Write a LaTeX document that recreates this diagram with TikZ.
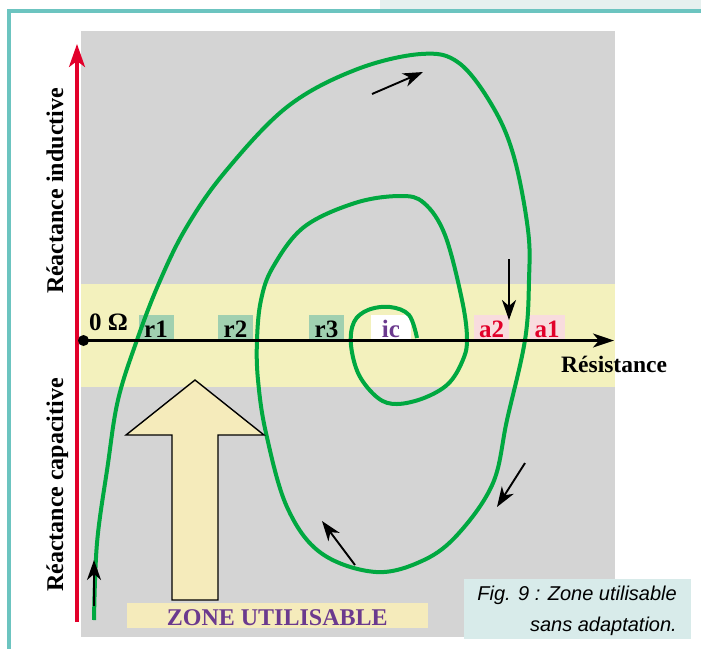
\documentclass[tikz,border=0pt]{standalone}
\usepackage{fontspec}
\setmainfont{Liberation Serif}
\newfontfamily\capfont{Liberation Sans}
\usetikzlibrary{arrows.meta}
\definecolor{frameteal}{RGB}{108,196,192}
\definecolor{bandteal}{RGB}{230,240,239}
\definecolor{capteal}{RGB}{216,235,234}
\definecolor{bggray}{RGB}{212,212,212}
\definecolor{bandyellow}{RGB}{243,241,189}
\definecolor{zonecream}{RGB}{245,235,187}
\definecolor{curvegreen}{RGB}{0,168,64}
\definecolor{boxgreen}{RGB}{160,208,176}
\definecolor{boxpink}{RGB}{248,220,222}
\definecolor{axisred}{RGB}{226,0,42}
\definecolor{zonepurple}{RGB}{107,58,142}

\begin{document}
\begin{tikzpicture}[x=1pt, y=-1pt,
  lbl/.style={font=\fontsize{24}{26}\selectfont\bfseries, inner sep=0pt},
  tagbox/.style={lbl, font=\fontsize{25}{27}\selectfont\bfseries, minimum width=35pt,
    minimum height=25pt, text height=19pt, text depth=0pt, anchor=south},
  captxt/.style={font=\capfont\itshape\fontsize{20}{24}\selectfont, inner sep=0pt, anchor=base east},
  smallarrow/.style={-{Stealth[length=20pt, width=14pt, inset=6pt]}, line width=1.9pt}]

\useasboundingbox (0,0) rectangle (701,649);

% ============================================================
% cadre et fond
% ============================================================
\fill[bandteal] (380,0) rectangle (701,9.3);
\draw[frameteal, line width=3.4pt] (701,11) -- (9,11) -- (9,649);

\fill[bggray] (80.5,31) rectangle (615,637);
\fill[bandyellow] (80.5,284) rectangle (615,387);

% étiquettes sur l'axe
\node[tagbox, fill=boxgreen] (r1) at (156,340.5) {r1};
\node[tagbox, fill=boxgreen] (r2) at (235.5,340.5) {r2};
\node[tagbox, fill=boxgreen] (r3) at (326.5,340.5) {r3};
\node[tagbox, fill=white, text=zonepurple, minimum width=40pt] (ic) at (391,340.5) {ic};
\node[tagbox, fill=boxpink, text=axisred] (a2) at (491.5,340.5) {a2};
\node[tagbox, fill=boxpink, text=axisred] (a1) at (547,340.5) {a1};

% ============================================================
% courbe d'impédance
% ============================================================
\draw[curvegreen, line width=4pt] plot[smooth, tension=0.6] coordinates {
  (94,620) (97,543) (107.5,467) (118,400) (137,340) (159,283) (186,228)
  (225,172) (287,107) (355,70) (421,54) (459,63) (493,107) (514,157)
  (528,230) (529,280) (525,340) (507,420) (493,483) (459,533) (424,560)
  (376,572) (321,553) (287,507) (266,433) (258,380) (257,340) (261,300)
  (273,267) (304,227) (355,203) (400,196) (424,203) (445,235) (462,300)
  (467,340) (462,362) (448,384) (424,398) (397,404) (378,398) (359,375)
  (351,345) (354,322) (368,310) (390,307) (409,315) (417,338)};

% ============================================================
% axes
% ============================================================
\coordinate (xbot) at (77,622);
\coordinate (xtop) at (77,44);
\draw[axisred, line width=3.3pt, -{Stealth[length=23pt, width=16pt, inset=6pt]}] (xbot) -- (xtop);

\node[circle, fill=black, inner sep=0pt, minimum size=11pt] (origin) at (83.5,340.5) {};
\coordinate (axisend) at (614,340.5);
\draw[line width=2.7pt, -{Stealth[length=21pt, width=14pt, inset=6pt]}] (origin.center) -- (axisend);

\node[lbl, font=\fontsize{25}{27}\selectfont\bfseries, anchor=base west] (zero) at (89,330) {0 Ω};
\node[lbl, font=\fontsize{23.5}{26}\selectfont\bfseries, anchor=base west] (res) at (561,372) {Résistance};
\node[lbl, rotate=90, anchor=base] (ind) at (63,191) {Réactance inductive};
\node[lbl, rotate=90, anchor=base] (capa) at (63,485) {Réactance capacitive};

% flèches de parcours
\coordinate (t1) at (372,94);   \coordinate (t2) at (423,72);
\coordinate (d1) at (509,259);  \coordinate (d2) at (509,320);
\coordinate (l1) at (525,463);  \coordinate (l2) at (497,507);
\coordinate (b1) at (355,565);  \coordinate (b2) at (322,521);
\coordinate (s1) at (94,606);   \coordinate (s2) at (94,560);
\draw[smallarrow] (t1) -- (t2);
\draw[smallarrow] (d1) -- (d2);
\draw[smallarrow] (l1) -- (l2);
\draw[smallarrow] (b1) -- (b2);
\draw[smallarrow] (s1) -- (s2);

% ============================================================
% zone utilisable
% ============================================================
\draw[fill=zonecream, line width=1.4pt] (195,380) -- (264,435) -- (218,435)
  -- (218,600) -- (172,600) -- (172,435) -- (126,435) -- cycle;
\node[lbl, text=zonepurple, fill=zonecream, minimum width=301.5pt, minimum height=25pt,
  text height=20pt, text depth=0pt] (zone) at (277.25,615.5) {ZONE UTILISABLE};

% légende
\node[fill=capteal, minimum width=227pt, minimum height=60pt, inner sep=0pt,
  anchor=north west] (capbox) at (464,579) {};
\node[captxt] (cap1) at (677,600) {Fig. 9 : Zone utilisable};
\node[captxt] (cap2) at (677,631) {sans adaptation.};

\end{tikzpicture}
\end{document}
